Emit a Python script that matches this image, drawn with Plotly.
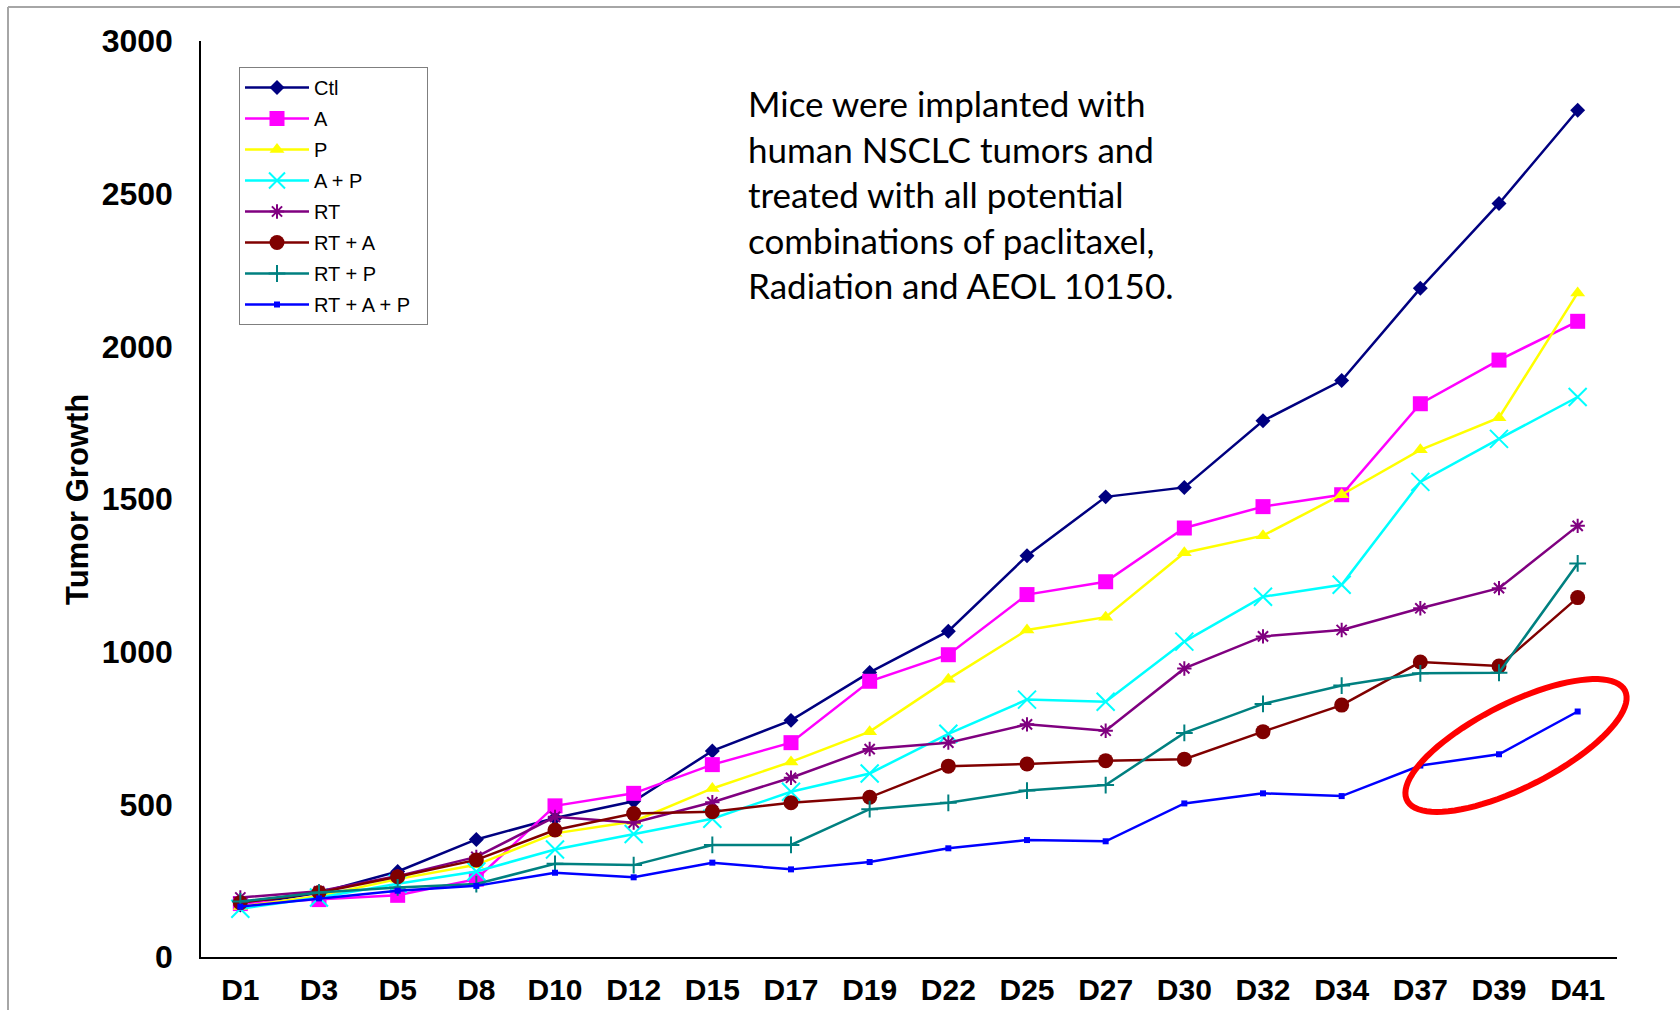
import numpy as np
import plotly.graph_objects as go

# ---------------- data ----------------
days = ["D1", "D3", "D5", "D8", "D10", "D12", "D15", "D17", "D19",
        "D22", "D25", "D27", "D30", "D32", "D34", "D37", "D39", "D41"]

ctl = [170, 210, 280, 385, 455, 510, 675, 775, 932, 1067, 1314, 1507, 1538, 1756, 1888, 2190, 2468, 2773]
a_only = [175, 188, 202, 255, 495, 536, 630, 702, 903, 990, 1187, 1229, 1405, 1475, 1514, 1812, 1955, 2082]
p_only = [165, 200, 255, 302, 405, 444, 552, 639, 738, 910, 1071, 1113, 1324, 1380, 1514, 1661, 1766, 2175]
a_p = [158, 195, 240, 280, 352, 403, 453, 541, 601, 731, 843, 836, 1033, 1180, 1219, 1556, 1697, 1834]
rt = [195, 215, 265, 328, 459, 440, 507, 587, 681, 702, 762, 741, 945, 1050, 1071, 1142, 1208, 1412]
rt_a = [178, 211, 263, 318, 416, 470, 476, 505, 523, 625, 632, 643, 648, 738, 825, 966, 953, 1177]
rt_p = [182, 211, 228, 239, 305, 301, 367, 367, 484, 505, 545, 563, 734, 829, 889, 929, 931, 1289]
rt_a_p = [165, 192, 217, 233, 276, 261, 309, 287, 311, 356, 383, 379, 503, 536, 527, 627, 664, 804]

series_names = ["Ctl", "A", "P", "A + P", "RT", "RT + A", "RT + P", "RT + A + P"]
series_values = [ctl, a_only, p_only, a_p, rt, rt_a, rt_p, rt_a_p]

y_ticks = [0, 500, 1000, 1500, 2000, 2500, 3000]

note_lines = ["Mice were implanted with",
              "human NSCLC tumors and",
              "treated with all potential",
              "combinations of paclitaxel,",
              "Radiation and AEOL 10150."]

# ---------------- styles ----------------
styles = [
    dict(color="#000080", symbol="diamond", size=11.5, lw=2.5),
    dict(color="#FF00FF", symbol="square", size=15, lw=2.5),
    dict(color="#FFFF00", symbol="triangle-up", size=13, lw=2.5),
    dict(color="#00FFFF", symbol="x-thin-open", size=18, lw=2.5),
    dict(color="#800080", symbol="asterisk-open", size=12, lw=2.5),
    dict(color="#800000", symbol="circle", size=15, lw=2.5),
    dict(color="#008080", symbol="cross-thin-open", size=12, lw=2.5),
    dict(color="#0000FF", symbol="square", size=6, lw=2.5),
]

W, H = 1680, 1010
L, R, T, B = 201, 63, 41, 53
PW, PH = W - L - R, H - T - B


def to_paper(px, py):
    return (px - L) / PW, (H - B - py) / PH


fig = go.Figure()
for i, (name, vals, st) in enumerate(zip(series_names, series_values, styles)):
    fig.add_trace(go.Scatter(
        x=days, y=vals, name=name + "\u00a0\u00a0", mode="lines+markers",
        legendgroup=f"g{i}",
        line=dict(color=st["color"], width=st["lw"]),
        marker=dict(symbol=st["symbol"], size=st["size"], color=st["color"],
                    line=dict(color=st["color"], width=2 if "open" in st["symbol"] else 0)),
    ))

# red ellipse highlight (annotation drawn in pixel geometry -> paper coords)
cx, cy, ea, eb, th = 1516, 745.5, 122, 42, np.deg2rad(26.7)
t = np.linspace(0, 2 * np.pi, 90)
ex = cx + ea * np.cos(t) * np.cos(th) - eb * np.sin(t) * np.sin(th)
ey = cy - (ea * np.cos(t) * np.sin(th) + eb * np.sin(t) * np.cos(th))
pts = [to_paper(x, y) for x, y in zip(ex, ey)]
path = "M " + " L ".join(f"{x:.5f},{y:.5f}" for x, y in pts) + " Z"

shapes = [
    dict(type="path", xref="paper", yref="paper", path=path,
         line=dict(color="#FF0000", width=6)),
]
# outer frame lines (left and top)
x8, _ = to_paper(8, 0)
_, y7 = to_paper(0, 7)
xr, _ = to_paper(W, 0)
_, yb = to_paper(0, H)
shapes.append(dict(type="line", xref="paper", yref="paper", x0=x8, x1=x8, y0=yb, y1=y7,
                   line=dict(color="#A6A6A6", width=2)))
shapes.append(dict(type="line", xref="paper", yref="paper", x0=x8, x1=xr, y0=y7, y1=y7,
                   line=dict(color="#A6A6A6", width=2)))

annotations = []
ax_, ay_ = to_paper(77, 500)
annotations.append(dict(text="Tumor Growth", xref="paper", yref="paper", x=ax_, y=ay_,
                        textangle=-90, showarrow=False, xanchor="center", yanchor="middle",
                        font=dict(family="Liberation Sans, Arial", size=31, color="black", weight="bold")))
nx, ny = to_paper(746, 80)
annotations.append(dict(text="<br>".join(note_lines), xref="paper", yref="paper", x=nx, y=ny,
                        showarrow=False, xanchor="left", yanchor="top", align="left",
                        font=dict(family="Lato, Open Sans", size=35, color="black")))

lx, ly = to_paper(239, 67)

fig.update_layout(
    width=W, height=H,
    margin=dict(l=L, r=R, t=T, b=B, autoexpand=False),
    paper_bgcolor="white", plot_bgcolor="white",
    showlegend=True,
    legend=dict(x=lx, y=ly, xanchor="left", yanchor="top",
                bgcolor="white", bordercolor="#7F7F7F", borderwidth=1,
                font=dict(family="Liberation Sans, Arial", size=20, color="black"),
                tracegroupgap=2, itemwidth=64, itemclick=False),
    xaxis=dict(type="category", range=[-0.5, len(days) - 0.5],
               showline=True, linecolor="black", linewidth=1.5, mirror=False,
               showgrid=False, zeroline=False, ticks="", ticklabelstandoff=5,
               tickfont=dict(family="Liberation Sans, Arial", size=30, color="black", weight="bold")),
    yaxis=dict(range=[0, 3000], tickvals=y_ticks,
               showline=True, linecolor="black", linewidth=1.5,
               showgrid=False, zeroline=False, ticks="", ticklabelstandoff=20,
               tickfont=dict(family="Liberation Sans, Arial", size=32, color="black", weight="bold")),
    shapes=shapes, annotations=annotations,
)

fig.write_html("out.html")
